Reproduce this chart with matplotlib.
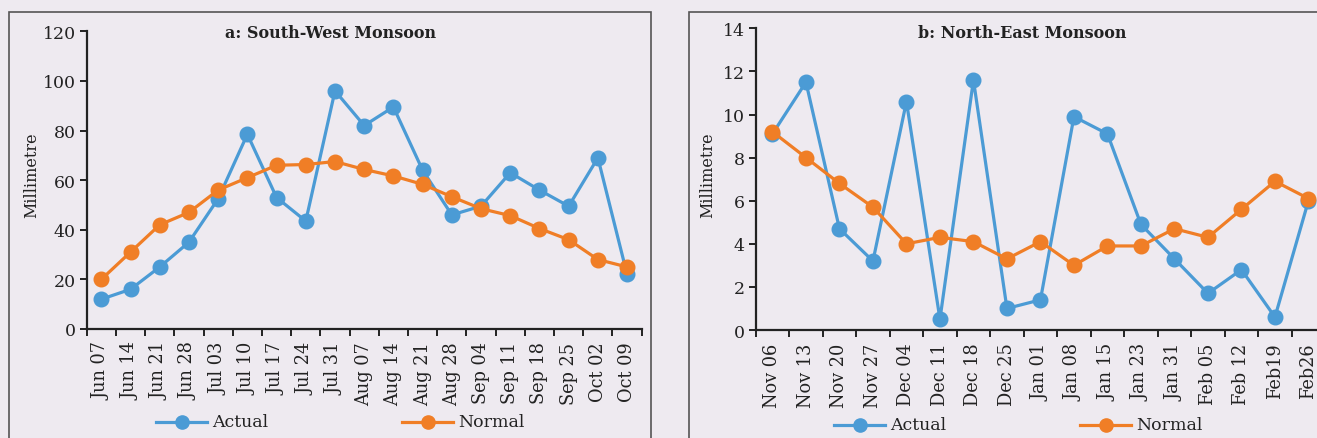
import matplotlib
matplotlib.use("Agg")
import matplotlib.pyplot as plt
from matplotlib.patches import Rectangle
from matplotlib.lines import Line2D
import numpy as np

plt.rcParams['font.family'] = ['DejaVu Serif']

sw_labels = ["Jun 07", "Jun 14", "Jun 21", "Jun 28", "Jul 03", "Jul 10", "Jul 17", "Jul 24",
             "Jul 31", "Aug 07", "Aug 14", "Aug 21", "Aug 28", "Sep 04", "Sep 11", "Sep 18",
             "Sep 25", "Oct 02", "Oct 09"]
sw_actual = [12, 16, 25, 35, 52.5, 78.5, 53, 43.5, 96, 82, 89.5, 64, 46, 49.5, 63, 56, 49.5, 69, 22]
sw_normal = [20, 31, 42, 47, 56, 61, 66, 66.3, 67.5, 64.3, 61.7, 58.3, 53.3, 48.5, 45.7, 40.5, 36, 28, 25]

ne_labels = ["Nov 06", "Nov 13", "Nov 20", "Nov 27", "Dec 04", "Dec 11", "Dec 18", "Dec 25",
             "Jan 01", "Jan 08", "Jan 15", "Jan 23", "Jan 31", "Feb 05", "Feb 12", "Feb19", "Feb26"]
ne_actual = [9.1, 11.5, 4.7, 3.2, 10.6, 0.5, 11.6, 1.0, 1.4, 9.9, 9.1, 4.9, 3.3, 1.7, 2.8, 0.6, 6.0]
ne_normal = [9.2, 8.0, 6.8, 5.7, 4.0, 4.3, 4.1, 3.3, 4.1, 3.0, 3.9, 3.9, 4.7, 4.3, 5.6, 6.9, 6.1]

BG = "#EEEAF0"
BLUE = "#4B9BD5"
ORANGE = "#F07E26"
TXT = "#222222"

W, H = 1317, 439
fig = plt.figure(figsize=(W / 100, H / 100), dpi=100, facecolor=BG)

def px(x0, y_top, x1, y_bot):
    return [x0 / W, 1 - y_bot / H, (x1 - x0) / W, (y_bot - y_top) / H]

# panel frames
for (fx0, fx1) in [(9, 651), (689, 1360)]:
    fig.patches.append(Rectangle((fx0 / W, -0.1), (fx1 - fx0) / W, 1.1 - 13.3 / H,
                                 transform=fig.transFigure, fill=False, edgecolor="#555555",
                                 linewidth=1.2))

def draw(ax, labels, actual, normal, ymax, ystep):
    ax.set_facecolor(BG)
    x = np.arange(len(labels))
    ax.plot(x, actual, color=BLUE, lw=2.3, marker='o', ms=10.5, zorder=3)
    ax.plot(x, normal, color=ORANGE, lw=2.3, marker='o', ms=10.5, zorder=4)
    ax.set_xlim(-0.5, len(labels) - 0.5)
    ax.set_ylim(0, ymax)
    ax.set_yticks(np.arange(0, ymax + 0.01, ystep))
    ax.set_xticks(x)
    ax.set_xticklabels(labels, rotation=90)
    ax.set_xticks(np.arange(-0.5, len(labels), 1), minor=True)
    ax.tick_params(axis='x', which='major', length=0, pad=9, labelsize=12.8, colors=TXT)
    ax.tick_params(axis='x', which='minor', length=5, width=1.4, direction='out', color=TXT)
    ax.tick_params(axis='y', length=5, width=1.4, direction='out', labelsize=12.5, colors=TXT, pad=3)
    for s in ['top', 'right']:
        ax.spines[s].set_visible(False)
    for s in ['left', 'bottom']:
        ax.spines[s].set_color(TXT)
        ax.spines[s].set_linewidth(1.6)

ax1 = fig.add_axes(px(86.7, 32.3, 641.7, 330))
draw(ax1, sw_labels, sw_actual, sw_normal, 120, 20)
ax2 = fig.add_axes(px(755.7, 29.3, 1325.2, 331))
draw(ax2, ne_labels, ne_actual, ne_normal, 14, 2)

fig.text(331 / W, 1 - 33 / H, "a: South-West Monsoon", ha='center', va='center',
         fontsize=11.5, fontweight='bold', color=TXT)
fig.text(1022 / W, 1 - 33 / H, "b: North-East Monsoon", ha='center', va='center',
         fontsize=11.5, fontweight='bold', color=TXT)
fig.text(32 / W, 1 - 175 / H, "Millimetre", rotation=90, ha='center', va='center',
         fontsize=11.5, color=TXT)
fig.text(708 / W, 1 - 175 / H, "Millimetre", rotation=90, ha='center', va='center',
         fontsize=11.5, color=TXT)

def legend_item(x0, y, label, color):
    yf = 1 - y / H
    fig.lines.append(Line2D([x0 / W, (x0 + 51) / W], [yf, yf], transform=fig.transFigure,
                            color=color, lw=2.3))
    fig.lines.append(Line2D([(x0 + 25.5) / W], [yf], transform=fig.transFigure,
                            color=color, marker='o', ms=9.5, lw=0))
    fig.text((x0 + 56) / W, yf, label, ha='left', va='center', fontsize=12.5, color=TXT)

legend_item(156, 423, "Actual", BLUE)
legend_item(402, 423, "Normal", ORANGE)
legend_item(834, 426, "Actual", BLUE)
legend_item(1080, 426, "Normal", ORANGE)

fig.savefig("out.png", dpi=100, facecolor=BG)
